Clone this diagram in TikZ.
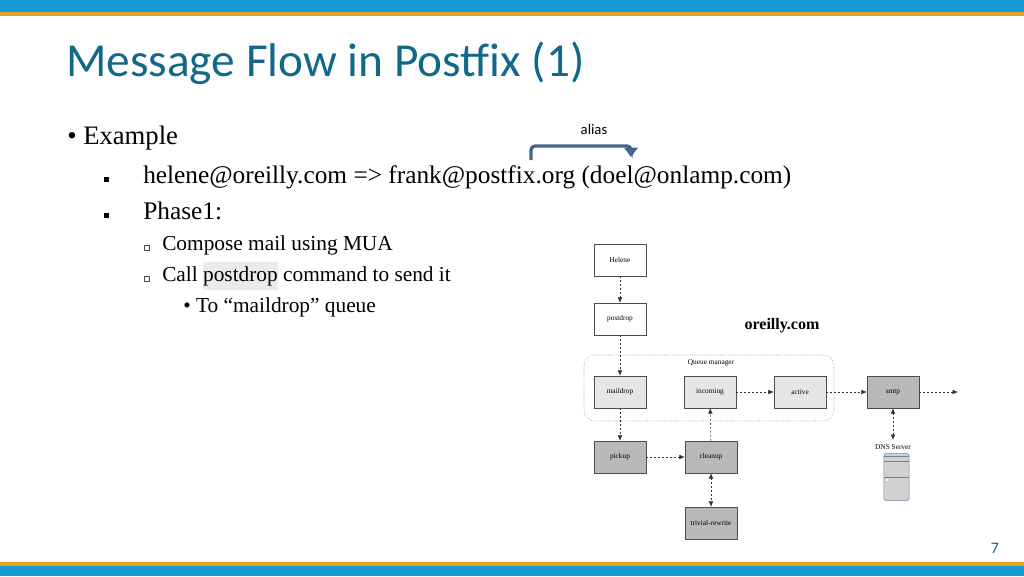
\documentclass[tikz,border=0pt]{standalone}
\usepackage{fontspec}
\setmainfont{Liberation Serif}
\newfontfamily\titlefont{Carlito}
\usetikzlibrary{arrows.meta, positioning}
\definecolor{barblue}{RGB}{22,155,212}
\definecolor{barorange}{RGB}{232,162,40}
\definecolor{titleteal}{RGB}{18,104,136}
\definecolor{lightbox}{RGB}{230,230,230}
\definecolor{darkbox}{RGB}{185,185,185}
\definecolor{aliasblue}{RGB}{70,100,140}
\tikzset{
  proc/.style={draw=black!70, minimum width=39pt, minimum height=24pt, inner sep=0pt, font=\fontsize{5.5}{6}\selectfont},
  flow/.style={dash pattern=on 1.5pt off 1.5pt, black!80, -{Latex[length=4pt,width=3.5pt]}},
  both/.style={dash pattern=on 1.5pt off 1.5pt, black!80, {Latex[length=4pt,width=3.5pt]}-{Latex[length=4pt,width=3.5pt]}},
  body/.style={anchor=base west, inner sep=0pt, font=\fontsize{19}{20}\selectfont},
  sub/.style={anchor=base west, inner sep=0pt, font=\fontsize{16}{18}\selectfont},
}
\begin{document}
\begin{tikzpicture}[x=0.75pt, y=-0.75pt]
\useasboundingbox (0,0) rectangle (1024,576);
% bars
\fill[barblue] (0,0) rectangle (1024,12);
\fill[barorange] (0,12) rectangle (1024,16);
\fill[barorange] (0,562) rectangle (1024,566);
\fill[barblue] (0,566) rectangle (1024,576);
% title and text
\node[anchor=base west, inner sep=0pt, text=titleteal, font=\titlefont\fontsize{35.5}{40}\selectfont] (title) at (66,76) {Message Flow in Postfix (1)};
\node[body, font=\fontsize{20}{22}\selectfont] (ex) at (67,144) {\textbullet\ Example};
\node[body] (l1) at (143,183) {helene@oreilly.com => frank@postfix.org (doel@onlamp.com)};
\node[body] (l2) at (143,219) {Phase1:};
\node[sub] (l3) at (162,250) {Compose mail using MUA};
\node[sub] (l4) at (162,281) {Call \colorbox{black!8}{\hspace*{-3pt}postdrop\hspace*{-3pt}} command to send it};
\node[sub] (l5) at (183,312) {\textbullet\ To “maildrop” queue};
\fill (104,177) rectangle (109,182);
\fill (104,213) rectangle (109,218);
\draw[black!70, line width=0.5pt] (144,245) rectangle (149,250);
\draw[black!70, line width=0.5pt] (144,276) rectangle (149,281);
% alias arrow
\node[font=\titlefont\fontsize{11}{12}\selectfont] (alias) at (594,129) {alias};
\coordinate (a0) at (531,160);
\coordinate (a1) at (631,157);
\draw[aliasblue, line width=2.5pt, rounded corners=3pt, -{Triangle[length=7pt,width=10pt]}] (a0) -- (531,146) -- (631,146) -- (a1);
% diagram
\node[proc] (helene) at (620,260) {Helene};
\node[proc] (postdrop) at (620,319) {postdrop};
\node[proc, fill=lightbox] (maildrop) at (620,392) {maildrop};
\node[proc, fill=lightbox] (incoming) at (710,392) {incoming};
\node[proc, fill=lightbox] (active) at (800,392) {active};
\node[proc, fill=darkbox] (smtp) at (893,392) {smtp};
\node[proc, fill=darkbox] (pickup) at (620,457) {pickup};
\node[proc, fill=darkbox] (cleanup) at (711,457) {cleanup};
\node[proc, fill=darkbox] (rewrite) at (711,523) {trivial-rewrite};
\node[font=\bfseries\fontsize{12}{14}\selectfont] (oreilly) at (782,326) {oreilly.com};
\draw[densely dotted, black!50, rounded corners=8pt] (584,355) rectangle (834,421);
\node[font=\fontsize{5.5}{6}\selectfont] (qm) at (711,363) {Queue manager};
\node[font=\fontsize{5.5}{6}\selectfont] (dnslabel) at (893,447) {DNS Server};
\node[draw=aliasblue!80, fill=black!18, rounded corners=1.5pt, minimum width=19pt, minimum height=35pt, inner sep=0pt] (dns) at (896.5,477) {};
\draw[aliasblue!80] (884,461) -- (909,461) (884,477) -- (909,477);
\draw[aliasblue!80] (884,456) -- (909,456);
\fill[white] (886,479) rectangle (888,481);
\coordinate (out) at (958,392);
\draw[flow] (helene) -- (postdrop);
\draw[flow] (postdrop) -- (maildrop);
\draw[flow] (maildrop) -- (pickup);
\draw[flow] (pickup) -- (cleanup);
\draw[flow] (cleanup) -- (incoming);
\draw[flow] (incoming) -- (active);
\draw[flow] (active) -- (smtp);
\draw[flow] (smtp) -- (out);
\draw[both] (cleanup) -- (rewrite);
\draw[both] (smtp) -- (dnslabel);
\node[text=titleteal, font=\titlefont\fontsize{12}{14}\selectfont] (page) at (995,548) {7};
\end{tikzpicture}
\end{document}
